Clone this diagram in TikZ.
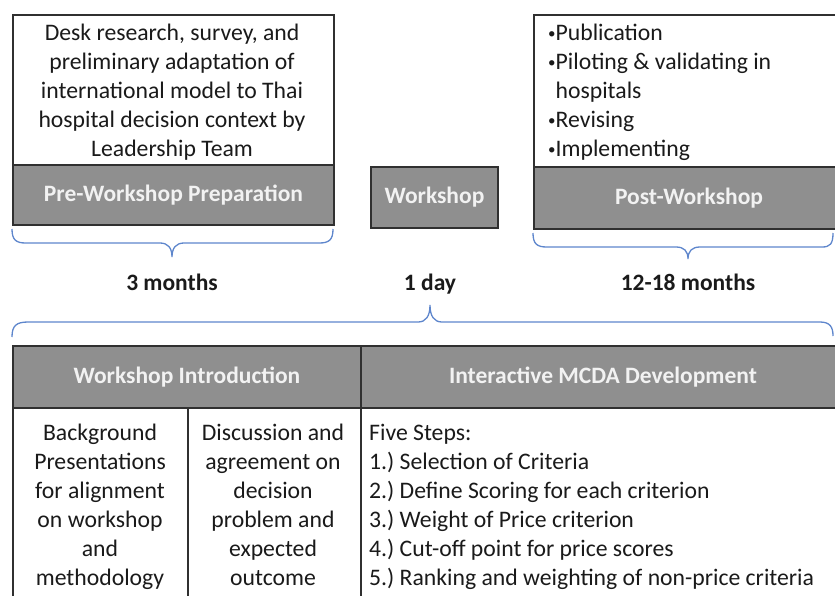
\documentclass[tikz,border=0pt]{standalone}
\usepackage{fontspec}
\setmainfont{Carlito}
\frenchspacing
\newcommand\smbul{\raisebox{1.6pt}{\fontsize{15}{15}\selectfont\textbullet}}
\definecolor{linec}{HTML}{303030}
\definecolor{hdrgray}{HTML}{8F8F8F}
\definecolor{hdrtextc}{HTML}{F2F2F2}
\definecolor{textc}{HTML}{1A1A1A}
\definecolor{bracec}{HTML}{5E86CC}
\tikzset{
  cell/.style={draw=linec, line width=2pt, fill=white, anchor=north west, inner sep=0pt},
  hdr/.style={draw=linec, line width=2pt, fill=hdrgray, anchor=north west, inner sep=0pt,
     text=hdrtextc, font=\bfseries\fontsize{23.5}{28}\selectfont},
  body/.style={font=\fontsize{23.7}{29}\selectfont, text=textc, inner sep=0pt},
  dur/.style={font=\bfseries\fontsize{23.5}{28}\selectfont, text=textc, inner sep=0pt, anchor=base},
  bracel/.style={draw=bracec, line width=1.3pt}
}
\begin{document}
\begin{tikzpicture}[x=1pt,y=-1pt]
\useasboundingbox (0,0) rectangle (835,595);
\clip (0,0) rectangle (835,595);
% top boxes
\node[cell, minimum width=321pt, minimum height=150pt] (pretop) at (12,14) {};
\node[hdr, minimum width=321pt, minimum height=60pt] (prehdr) at (12,164) {Pre-Workshop Preparation};
\node[hdr, minimum width=127pt, minimum height=61pt] (ws) at (370,166) {Workshop};
\node[cell, minimum width=310pt, minimum height=152pt] (posttop) at (533,14) {};
\node[hdr, minimum width=310pt, minimum height=62pt] (posthdr) at (533,166) {Post-Workshop};
% top texts
\node[body, align=center] (pretext) at (172,92) {Desk research, survey, and\\preliminary adaptation of\\international model to Thai\\hospital decision context by\\Leadership Team};
\node[body, align=left, anchor=west] (posttext) at (548,92) {\smbul Publication\\\smbul Piloting \& validating in\\\hphantom{\smbul}hospitals\\\smbul Revising\\\smbul Implementing};
% braces
\draw[bracel] (12,229) coordinate (b1a)
  .. controls (12,240) and (16,243) .. (26,243) -- (160,243)
  .. controls (168,243) and (172,248) .. (172,257) coordinate (b1tip)
  .. controls (172,248) and (176,243) .. (184,243) -- (319,243)
  .. controls (329,243) and (333,240) .. (333,229) coordinate (b1b);
\draw[bracel] (533,233) coordinate (b2a)
  .. controls (533,244) and (537,247) .. (547,247) -- (676,247)
  .. controls (684,247) and (688,251) .. (688,259) coordinate (b2tip)
  .. controls (688,251) and (692,247) .. (700,247) -- (822,247)
  .. controls (830,247) and (833,244) .. (833,233) coordinate (b2b);
% durations
\node[dur] (d1) at (172,290) {3 months};
\node[dur] (d2) at (430,290) {1 day};
\node[dur] (d3) at (688,290) {12-18 months};
% bottom brace
\draw[bracel] (12,337) coordinate (b3a)
  .. controls (12,326) and (16,322) .. (28,322) -- (418,322)
  .. controls (426,322) and (430,316) .. (430,305) coordinate (b3tip)
  .. controls (430,316) and (434,322) .. (442,322) -- (820,322)
  .. controls (830,322) and (833,327) .. (833,336) coordinate (b3b);
% table
\node[hdr, minimum width=348pt, minimum height=62pt] (intro) at (12,345) {Workshop Introduction};
\node[hdr, minimum width=484pt, minimum height=62pt] (mcda) at (360,345) {Interactive MCDA Development};
\node[cell, minimum width=175pt, minimum height=200pt] (c1) at (12,407) {};
\node[cell, minimum width=173pt, minimum height=200pt] (c2) at (187,407) {};
\node[cell, minimum width=484pt, minimum height=200pt] (c3) at (360,407) {};
\node[body, align=center, anchor=north] (t1) at (100,424) {Background\\Presentations\\for alignment\\on workshop\\and\\methodology};
\node[body, align=center, anchor=north] (t2) at (273,424) {Discussion and\\agreement on\\decision\\problem and\\expected\\outcome};
\node[body, align=left, anchor=north west] (t3) at (369,424) {Five Steps:\\1.) Selection of Criteria\\2.) Define Scoring for each criterion\\3.) Weight of Price criterion\\4.) Cut-off point for price scores\\5.) Ranking and weighting of non-price criteria};
\end{tikzpicture}
\end{document}
